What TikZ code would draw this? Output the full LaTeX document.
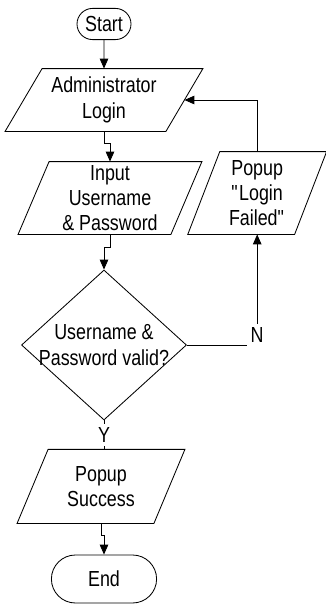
\documentclass[tikz,border=0pt]{standalone}
\usepackage{fontspec}
\setmainfont{Liberation Sans}[FakeStretch=0.82]
\usepackage{tikz}
\usetikzlibrary{positioning, arrows.meta, shapes.geometric, shapes.misc}

\begin{document}
\begin{tikzpicture}[
  font=\fontsize{15.5pt}{18pt}\selectfont,
  line width=0.6pt,
  term/.style={draw, rounded rectangle, inner sep=0pt},
  % slanted in/out box, #1 = horizontal offset of the top edge
  io/.style={inner sep=0pt, align=center,
    append after command={\pgfextra{
      \draw ([xshift=#1/2]\tikzlastnode.north west) -- ([xshift=#1/2]\tikzlastnode.north east)
        -- ([xshift=-#1/2]\tikzlastnode.south east) -- ([xshift=-#1/2]\tikzlastnode.south west) -- cycle;}}},
  io/.default=0.775cm,
  decision/.style={draw, diamond, aspect=1.1, inner sep=-4pt, align=center},
  flow/.style={-{Triangle[length=7pt, width=6pt]}},
  answer/.style={fill=white, inner sep=2.5pt}
]
  \useasboundingbox (0,0) rectangle (8.15,-15.15);

  \node[term, minimum width=1.35cm, minimum height=0.78cm] (start) at (2.6,-0.6) {Start};
  \node[io=0.925cm, minimum width=4cm, minimum height=1.55cm] (admin) at (2.6,-2.5) {Administrator\\Login};
  \node[io, minimum width=3.8cm, minimum height=1.8cm] (input) at (2.75,-4.95) {Input\\Username\\\& Password};
  \node[decision, minimum width=4.125cm, minimum height=3.75cm] (valid) at (2.6,-8.625) {Username \&\\Password valid?};
  \node[io=0.8cm, minimum width=2.65cm, minimum height=2.05cm] (failed) at (6.43,-4.825) {Popup\\\textquotedbl Login\\Failed\textquotedbl};
  \node[io, minimum width=3.4cm, minimum height=1.83cm] (success) at (2.525,-12.16) {Popup\\Success};
  \node[term, minimum width=2.63cm, minimum height=1.2cm] (end) at (2.6,-14.475) {End};

  \draw[flow] (start) -- (admin);
  \draw[flow] (admin.south) -- ++(0,-0.3) -| (input.north);
  \draw[flow] (input.south) -- ++(0,-0.33) -| (valid.north);
  \draw (valid.south) -- (valid.south |- success.north) node[answer, midway] {Y};
  \draw[flow] (valid.east) -| (failed.south) node[answer, pos=0.5, yshift=0.25cm] {N};
  \draw[flow] (failed.north) |- (admin.east);
  \draw[flow] (success.south) -- ++(0,-0.3) -| (end.north);
\end{tikzpicture}
\end{document}
